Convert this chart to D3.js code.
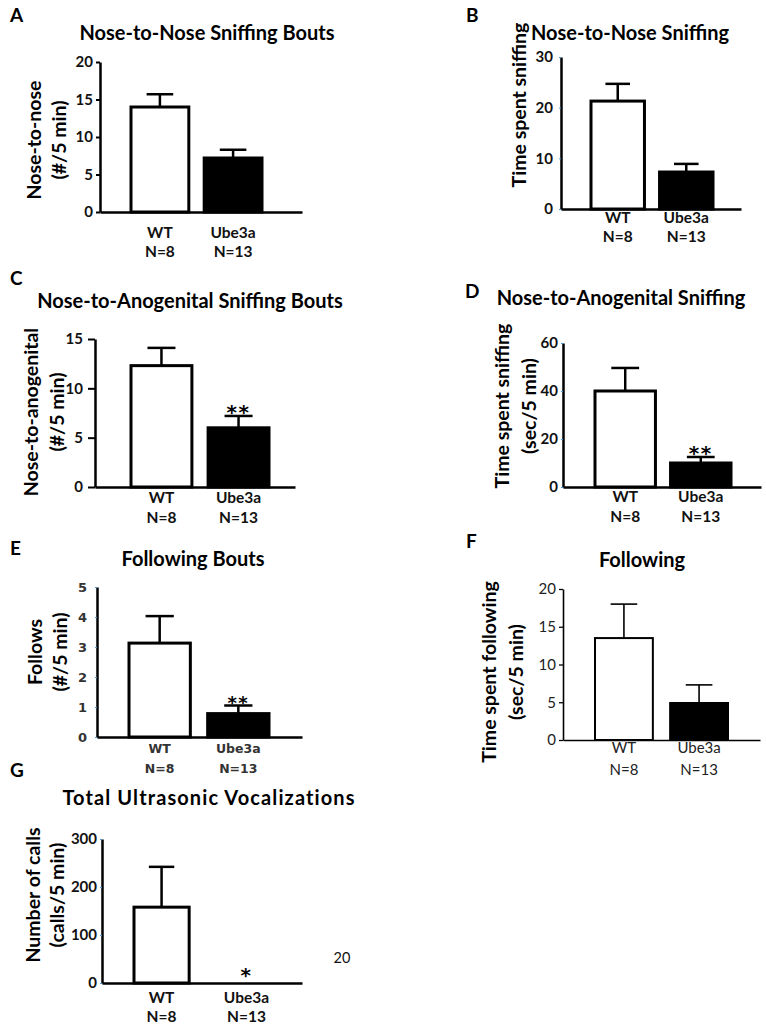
<!DOCTYPE html>
<html><head><meta charset="utf-8">
<script src="https://cdn.jsdelivr.net/npm/d3@7"></script>
<style>body{margin:0;background:#fff;} svg{display:block;}</style>
</head><body>
<svg id="c" width="766" height="1030"></svg>
<script>
// ---------------- DATA ----------------
const groups = ["WT", "Ube3a"];
const groupN = ["N=8", "N=13"];
const panelLetters = ["A", "B", "C", "D", "E", "F", "G"];
const panelTitles = [
  "Nose-to-Nose Sniffing Bouts",
  "Nose-to-Nose Sniffing",
  "Nose-to-Anogenital Sniffing Bouts",
  "Nose-to-Anogenital Sniffing",
  "Following Bouts",
  "Following",
  "Total Ultrasonic Vocalizations"
];
const yLabels = [
  ["Nose-to-nose", "(#/5 min)"],
  ["Time spent sniffing"],
  ["Nose-to-anogenital", "(#/5 min)"],
  ["Time spent sniffing", "(sec/5 min)"],
  ["Follows", "(#/5 min)"],
  ["Time spent following", "(sec/5 min)"],
  ["Number of calls", "(calls/5 min)"]
];
const yTicks = [
  [0, 5, 10, 15, 20],
  [0, 10, 20, 30],
  [0, 5, 10, 15],
  [0, 20, 40, 60],
  [0, 1, 2, 3, 4, 5],
  [0, 5, 10, 15, 20],
  [0, 100, 200, 300]
];
const meanA = [14.0, 7.2],  semA = [1.7, 1.1];
const meanB = [21.3, 7.3],  semB = [3.4, 1.6];
const meanC = [12.3, 6.0],  semC = [1.8, 1.2];
const meanD = [40.0, 10.0], semD = [9.6, 2.5];
const meanE = [3.13, 0.78], semE = [0.9, 0.27];
const meanF = [13.5, 4.9],  semF = [4.5, 2.4];
const meanG = [158, 0],     semG = [84, 0];
const signif = [["", ""], ["", ""], ["", "**"], ["", "**"], ["", "**"], ["", ""], ["", "*"]];
const pageNumber = "20";

const means = [meanA, meanB, meanC, meanD, meanE, meanF, meanG];
const sems = [semA, semB, semC, semD, semE, semF, semG];

// ---------------- LAYOUT ----------------
const layout = [
  {L:[10,22],  T:[207,40],  ax:100, y0:212, yTop:62,  xEnd:302, bL:131, bR:262, pi:0.21, ts:4, tc:"#000", tp:3, yl:[41,66],  ycy:140, gd:[26,45], st:"bold"},
  {L:[466,22], T:[630,40],  ax:561, y0:209, yTop:57,  xEnd:741, bL:591, bR:713, pi:0.22, ts:2, tc:"#4a9ee0", tp:6, yl:[526], ycy:105, gd:[14,33], st:"bold", clip:530},
  {L:[10,285], T:[190,308], ax:95,  y0:487, yTop:339, xEnd:295, bL:131, bR:269, pi:0.21, ts:7, tc:"#000", tp:5, yl:[38,64],  ycy:412, gd:[16,36], st:"bold"},
  {L:[465,298],T:[621,305], ax:563, y0:487, yTop:343, xEnd:761, bL:595, bR:731, pi:0.2,  ts:2, tc:"#4a9ee0", tp:3, yl:[509,536], ycy:406, gd:[15,35], st:"bold"},
  {L:[10,555], T:[193,566], ax:97,  y0:737, yTop:587, xEnd:302, bL:129, bR:269, pi:0.22, ts:2, tc:"#4a9ee0", tp:8, yl:[42,67],  ycy:652, gd:[16,36], st:"tahoma"},
  {L:[466,548],T:[642,567], ax:563, y0:740, yTop:589, xEnd:760, bL:595, bR:728, pi:0.23, ts:4, tc:"#000", tp:3, yl:[496,523], ycy:672, gd:[13,35], st:"light"},
  {L:[10,777], T:[209,805], ax:102, y0:983, yTop:839, xEnd:302, bL:134, bR:274, pi:0.35, ts:2, tc:"#4a9ee0", tp:3, yl:[40,64],  ycy:895, gd:[20,39], st:"bold", tls:1.1}
];

const FONT = "Lato, 'Open Sans', sans-serif";
const svg = d3.select("#c");
const defs = svg.append("defs");

panelLetters.forEach((letter, i) => {
  const lo = layout[i];
  const g = svg.append("g");
  const thin = lo.st === "light";
  const sw = thin ? 2 : 3;
  const aw = thin ? 1.6 : 2.5;
  const ymax = d3.max(yTicks[i]);
  const y = d3.scaleLinear().domain([0, ymax]).range([lo.y0, lo.yTop]);
  const x = d3.scaleBand().domain(groups).range([lo.bL, lo.bR]).paddingInner(lo.pi).paddingOuter(0);

  // panel letter
  g.append("text").attr("x", lo.L[0]).attr("y", lo.L[1])
    .attr("font-family", FONT).attr("font-weight", "bold").attr("font-size", 19)
    .text(letter);

  // title
  g.append("text").attr("x", lo.T[0]).attr("y", lo.T[1]).attr("text-anchor", "middle")
    .attr("font-family", FONT).attr("font-weight", "bold").attr("font-size", 20)
    .attr("letter-spacing", lo.tls || 0)
    .text(panelTitles[i]);

  // y label
  let ylg = g.append("g");
  if (lo.clip) {
    defs.append("clipPath").attr("id", "clip" + i).append("rect")
      .attr("x", 0).attr("y", 0).attr("width", lo.clip).attr("height", 400);
    ylg.attr("clip-path", "url(#clip" + i + ")");
  }
  yLabels[i].forEach((line, k) => {
    ylg.append("text")
      .attr("transform", `translate(${lo.yl[k]},${lo.ycy}) rotate(-90)`)
      .attr("text-anchor", "middle")
      .attr("font-family", FONT).attr("font-weight", "bold").attr("font-size", 19.5)
      .text(line);
  });

  // bars
  g.selectAll("rect.bar").data(groups).join("rect").attr("class", "bar")
    .attr("x", d => x(d)).attr("width", x.bandwidth())
    .attr("y", (d, j) => y(means[i][j]))
    .attr("height", (d, j) => lo.y0 - y(means[i][j]))
    .attr("fill", (d, j) => j === 0 ? "#fff" : "#000")
    .attr("stroke", "#000").attr("stroke-width", sw);

  // error bars (upper only)
  const capW = x.bandwidth() * 0.46;
  groups.forEach((gr, j) => {
    if (sems[i][j] <= 0) return;
    const cx = x(gr) + x.bandwidth() / 2;
    const yt = y(means[i][j] + sems[i][j]);
    g.append("line").attr("x1", cx).attr("x2", cx).attr("y1", y(means[i][j])).attr("y2", yt)
      .attr("stroke", "#000").attr("stroke-width", thin ? 1.6 : 2.5);
    g.append("line").attr("x1", cx - capW / 2).attr("x2", cx + capW / 2).attr("y1", yt).attr("y2", yt)
      .attr("stroke", "#000").attr("stroke-width", thin ? 1.6 : 2.5);
  });

  // significance
  groups.forEach((gr, j) => {
    const s = signif[i][j];
    if (!s) return;
    const cx = x(gr) + x.bandwidth() / 2;
    const yt = y(means[i][j] + sems[i][j]);
    g.append("text").attr("x", cx).attr("y", yt + (s === "*" ? -1 : 3)).attr("text-anchor", "middle")
      .attr("font-family", "'DejaVu Sans', sans-serif").attr("font-weight", "bold")
      .attr("font-size", lo.st === "tahoma" ? 18 : 20)
      .attr("letter-spacing", 1.5)
      .text(s);
  });

  // y axis
  const yAxis = d3.axisLeft(y).tickValues(yTicks[i]).tickFormat(d3.format("d"))
    .tickSize(lo.ts).tickSizeOuter(0).tickPadding(lo.tp);
  const ya = g.append("g").attr("transform", `translate(${lo.ax},0)`).call(yAxis);
  ya.select(".domain").attr("stroke", "#000").attr("stroke-width", aw);
  ya.selectAll(".tick line").attr("stroke", lo.tc).attr("stroke-width", lo.tc === "#000" ? aw * 0.8 : 1);
  const tf = lo.st === "bold" ? {f: FONT, w: "bold", s: 15, c: "#111"}
           : lo.st === "tahoma" ? {f: "'DejaVu Sans', sans-serif", w: "bold", s: 13, c: "#333"}
           : {f: FONT, w: "normal", s: 15, c: "#222"};
  ya.selectAll(".tick text").attr("font-family", tf.f).attr("font-weight", tf.w)
    .attr("font-size", tf.s).attr("fill", tf.c);

  // x axis line
  const xl = d3.scaleLinear().range([lo.ax, lo.xEnd]);
  g.append("g").attr("transform", `translate(0,${lo.y0})`)
    .call(d3.axisBottom(xl).tickValues([]).tickSizeOuter(0))
    .select(".domain").attr("stroke", "#000").attr("stroke-width", aw);

  // group labels
  const gf = lo.st === "bold" ? {f: FONT, w: "bold", s: 15.5, c: "#111"}
           : lo.st === "tahoma" ? {f: "'DejaVu Sans', sans-serif", w: "bold", s: 12.5, c: "#333"}
           : {f: FONT, w: "normal", s: 15, c: "#222"};
  groups.forEach((gr, j) => {
    const cx = x(gr) + x.bandwidth() / 2;
    [gr, groupN[j]].forEach((t, k) => {
      g.append("text").attr("x", cx).attr("y", lo.y0 + lo.gd[k]).attr("text-anchor", "middle")
        .attr("font-family", gf.f).attr("font-weight", gf.w).attr("font-size", gf.s).attr("fill", gf.c)
        .text(t);
    });
  });
});

// stray page number
svg.append("text").attr("x", 342).attr("y", 963).attr("text-anchor", "middle")
  .attr("font-family", FONT).attr("font-size", 14.5).attr("fill", "#111").text(pageNumber);
</script></body></html>
